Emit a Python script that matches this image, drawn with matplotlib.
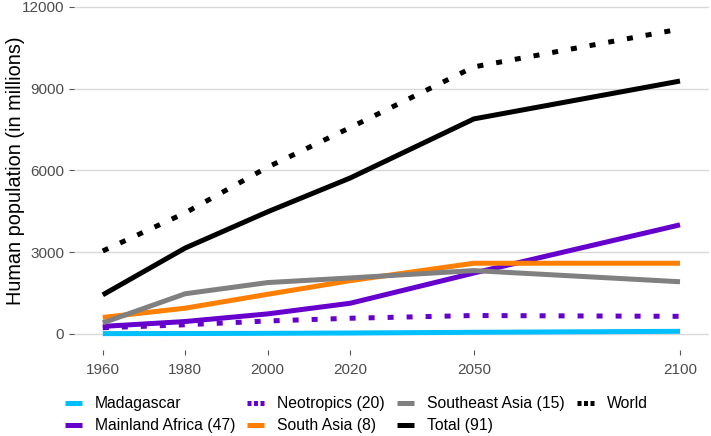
import matplotlib
matplotlib.use("Agg")
import matplotlib.pyplot as plt

plt.rcParams["font.family"] = ["Liberation Sans", "DejaVu Sans"]

years = [1960, 1980, 2000, 2020, 2050, 2100]
x_ticks = [1960, 1980, 2000, 2020, 2050, 2100]
y_ticks = [0, 3000, 6000, 9000, 12000]

madagascar      = [5, 9, 16, 28, 54, 90]
mainland_africa = [270, 450, 730, 1120, 2230, 4000]
neotropics      = [220, 330, 470, 570, 670, 640]
south_asia      = [600, 940, 1450, 1950, 2590, 2590]
southeast_asia  = [400, 1470, 1880, 2050, 2320, 1910]
total           = [1430, 3150, 4480, 5720, 7890, 9280]
world           = [3040, 4440, 6120, 7570, 9800, 11190]

labels = ["Madagascar", "Mainland Africa (47)", "Neotropics (20)", "South Asia (8)",
          "Southeast Asia (15)", "Total (91)", "World"]
series = [madagascar, mainland_africa, neotropics, south_asia, southeast_asia, total, world]
colors = ["#00BFFF", "#6600CC", "#6600CC", "#FF7F00", "#808080", "#000000", "#000000"]
dotted = (0, (1.2, 2.6))
styles = ["-", "-", dotted, "-", "-", "-", dotted]

fig = plt.figure(figsize=(7.11, 4.36), dpi=100)
ax = fig.add_axes([0.104, 0.197, 0.893, 0.8245])

lw = 3.6
for vals, lab, c, ls in zip(series, labels, colors, styles):
    ax.plot(years, vals, color=c, linestyle=ls, linewidth=lw, label=lab,
            solid_capstyle="butt", dash_capstyle="butt")

ax.set_xlim(1953, 2107)
ax.set_ylim(-600, 12600)
ax.set_xticks(x_ticks)
ax.set_yticks(y_ticks)
ax.grid(axis="y", color="#D9D9D9", linewidth=1.0)
ax.set_axisbelow(True)
for s in ax.spines.values():
    s.set_visible(False)
ax.tick_params(axis="both", colors="#555555", labelcolor="#4D4D4D", labelsize=11,
               length=3.5, width=0.8)
ax.tick_params(axis="x", pad=6)
ax.set_ylabel("Human population (in millions)", fontsize=14.3, color="black")
ax.yaxis.set_label_coords(-0.077, 0.5)

# legend: one small legend per column, 2 rows, placed like ggplot's bottom legend
handles, labs = ax.get_legend_handles_labels()
col_x = [65, 247, 397, 577]
for i, x0 in enumerate(col_x):
    h = handles[2 * i:2 * i + 2]
    l = labs[2 * i:2 * i + 2]
    leg = fig.legend(h, l, loc="upper left", bbox_to_anchor=(x0 / 711, 0.091),
                     frameon=False, fontsize=11.3, handlelength=1.1, handletextpad=0.8,
                     labelspacing=0.45, borderpad=0.0, borderaxespad=0.0)
    for line in leg.get_lines():
        if line.get_linestyle() != "-":
            line.set_linestyle((0, (0.8, 0.5)))

fig.savefig("out.png", dpi=100)
